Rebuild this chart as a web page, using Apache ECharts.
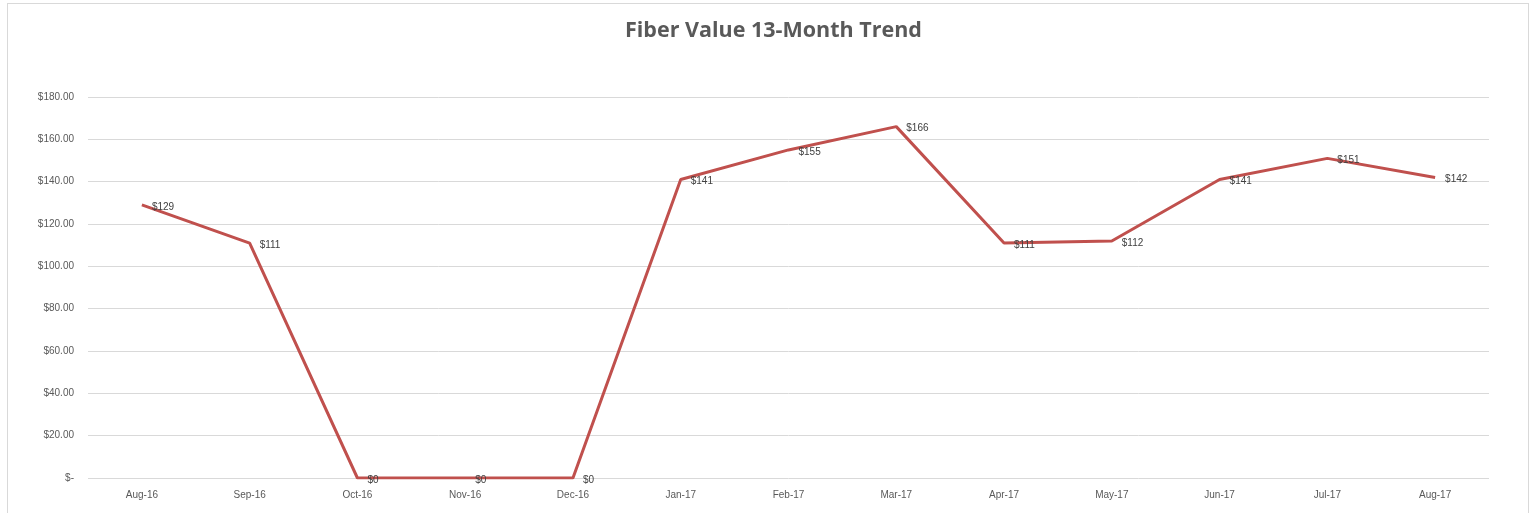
<!DOCTYPE html>
<html><head><meta charset="utf-8">
<script src="https://cdn.jsdelivr.net/npm/echarts@6/dist/echarts.min.js"></script>
<style>html,body{margin:0;padding:0;background:#fff;}#c{width:1529px;height:513px;}
#frame{position:absolute;left:7px;top:3px;width:1520px;height:520px;border:1px solid #d9d9d9;pointer-events:none;}</style>
</head><body><div id="c"></div><div id="frame"></div>
<script>
const categories = ['Aug-16','Sep-16','Oct-16','Nov-16','Dec-16','Jan-17','Feb-17','Mar-17','Apr-17','May-17','Jun-17','Jul-17','Aug-17'];
const values = [129,111,0,0,0,141,155,166,111,112,141,151,142];
const chart = echarts.init(document.getElementById('c'));
const font = '"Liberation Sans", "Open Sans", sans-serif';
chart.setOption({
  animation:false,
  title:{text:'Fiber Value 13-Month Trend',left:620,top:15,textStyle:{fontFamily:'"Open Sans", sans-serif',fontSize:21.5,fontWeight:'bold',color:'#595959'}},
  grid:{left:88,right:40,top:97,bottom:35},
  xAxis:{type:'category',data:categories,boundaryGap:true,axisTick:{show:false},axisLine:{show:false},
    axisLabel:{fontFamily:font,fontSize:10,color:'#595959',margin:12}},
  yAxis:{type:'value',min:0,max:180,interval:20,axisLine:{show:false},axisTick:{show:false},
    splitLine:{lineStyle:{color:'#d9d9d9'}},
    axisLabel:{fontFamily:font,fontSize:10,color:'#595959',margin:14,align:'right',
      formatter:v=>v===0?'$-':'$'+v.toFixed(2)}},
  series:[{type:'line',data:values,symbol:'circle',symbolSize:0,showSymbol:true,lineStyle:{color:'#C0504D',width:3},itemStyle:{color:'#C0504D'},
    label:{show:true,position:'right',distance:10,offset:[0,2],fontFamily:font,fontSize:10,color:'#404040',formatter:p=>'$'+p.value}}]
});
</script></body></html>
